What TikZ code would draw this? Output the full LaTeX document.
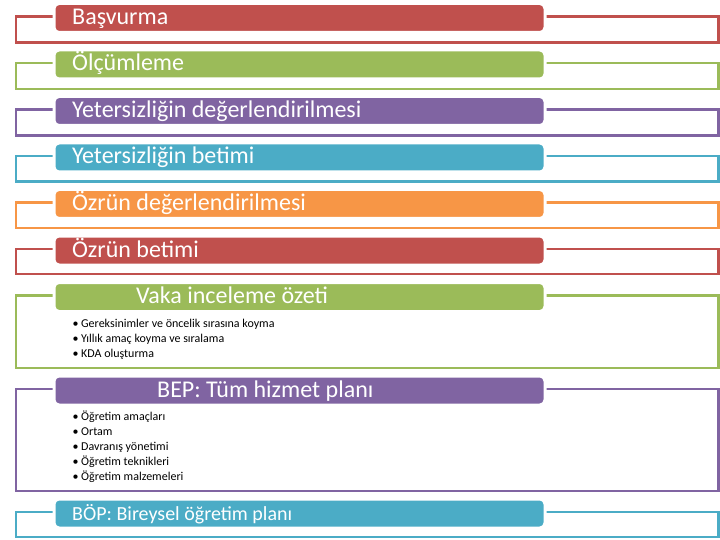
\documentclass[tikz,border=0pt]{standalone}
\usepackage{fontspec}
\setmainfont{Carlito}
\definecolor{kirmizi}{RGB}{192,80,77}
\definecolor{yesil}{RGB}{155,187,89}
\definecolor{mor}{RGB}{128,100,162}
\definecolor{mavi}{RGB}{75,172,198}
\definecolor{turuncu}{RGB}{247,150,70}
\tikzset{
  serit/.style={draw=white, line width=3pt, rounded corners=5pt, minimum width=491pt,
    minimum height=29pt, anchor=north west, inner sep=0pt},
  cerceve/.style={line width=2.5pt},
  baslik/.style={text=white, anchor=base west, inner sep=0pt},
  madde/.style={font=\fontsize{12}{15}\selectfont, anchor=base west, inner sep=0pt}
}
\begin{document}
\begin{tikzpicture}[x=1pt, y=-1pt]
\useasboundingbox (0,0) rectangle (720,540);
% seritler ve cerceveler
\foreach \ad/\ust/\alt/\renk/\tx/\boy/\metin in {
  basvuru/3.5/42.5/kirmizi/72/24/Başvurma,
  olcum/50/89/yesil/72/24/Ölçümleme,
  ydeger/96.5/135.5/mor/72/24/Yetersizliğin değerlendirilmesi,
  ybetim/143/181.5/mavi/72/24/Yetersizliğin betimi,
  odeger/189.5/228/turuncu/72/24/Özrün değerlendirilmesi,
  obetim/236/274/kirmizi/72/24/Özrün betimi,
  vaka/282.5/368/yesil/136/24/Vaka inceleme özeti,
  bep/376/491/mor/157/24/BEP: Tüm hizmet planı,
  bop/499/537/mavi/72/20/BÖP: Bireysel öğretim planı}{
  \draw[cerceve, \renk] (16,\ust+13) rectangle (718.5,\alt);
  \node[serit, fill=\renk] (\ad) at (52.5,\ust-1.5) {};
  \node[baslik, font=\fontsize{\boy}{\boy}\selectfont] (\ad-yazi) at (\tx,\ust+21) {\metin};
}
% maddeler
\foreach \m [count=\i] in {Gereksinimler ve öncelik sırasına koyma,
  Yıllık amaç koyma ve sıralama, KDA oluşturma}
  \node[madde] (vaka-\i) at (72.5,312+15*\i) {\textbullet\hspace{2.5pt}\m};
\foreach \m [count=\i] in {Öğretim amaçları, Ortam, Davranış yönetimi,
  Öğretim teknikleri, Öğretim malzemeleri}
  \node[madde] (bep-\i) at (72.5,405+15*\i) {\textbullet\hspace{2.5pt}\m};
\end{tikzpicture}
\end{document}
